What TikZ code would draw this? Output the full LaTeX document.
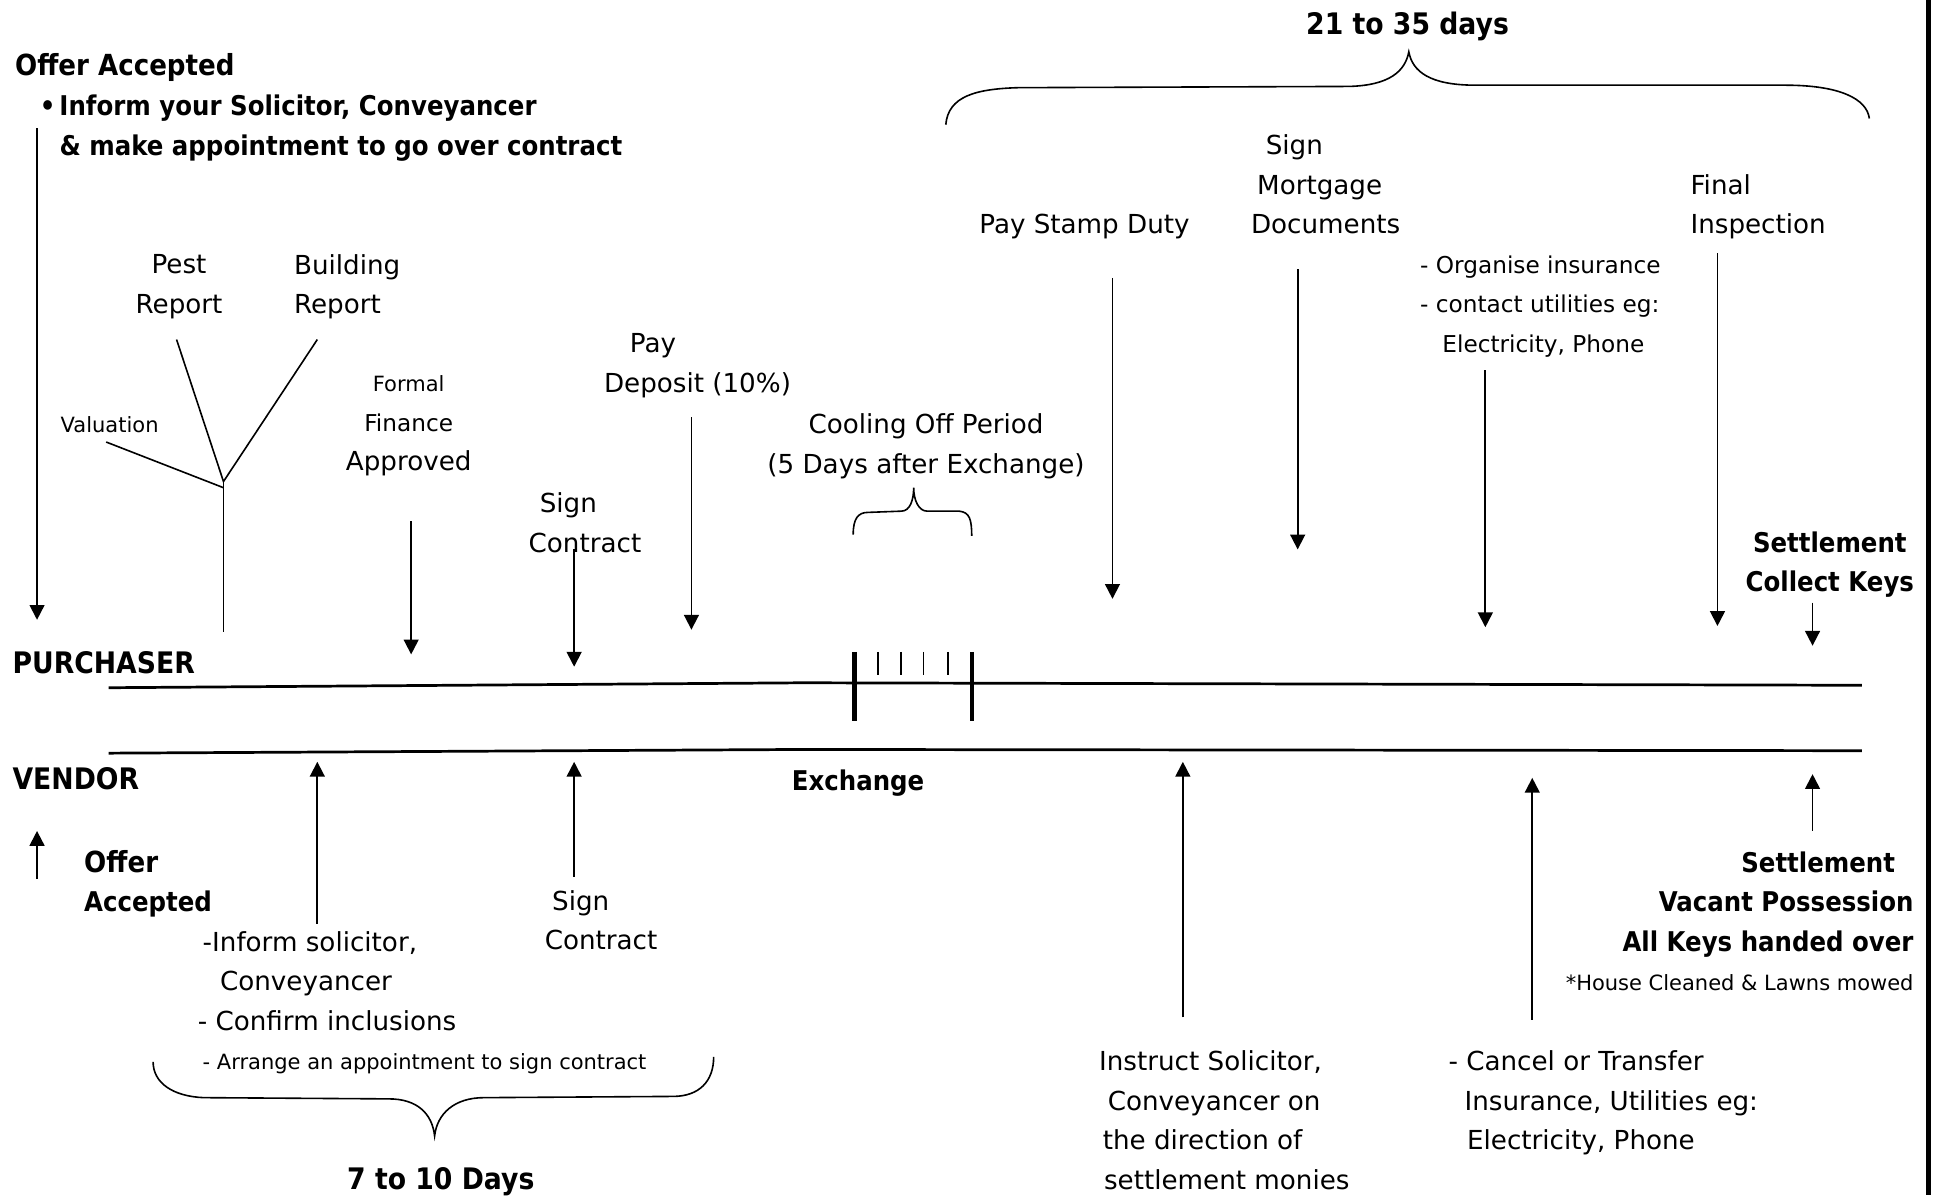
\documentclass[tikz,border=0pt]{standalone}
\usepackage{fontspec}
\setmainfont{DejaVu Sans}[BoldFeatures={FakeStretch=0.9}]
\usetikzlibrary{positioning,arrows.meta}
\tikzset{
  step text/.style={inner sep=0pt, align=left, font=\fontsize{21.2}{32}\selectfont},
  key text/.style={step text, font=\fontsize{22}{32}\selectfont\bfseries},
  big key text/.style={step text, font=\fontsize{24}{32}\selectfont\bfseries},
  note text/.style={step text, font=\fontsize{18.8}{32}\selectfont},
  small text/.style={step text, font=\fontsize{17}{32}\selectfont},
  timeline/.style={line width=2.2pt},
  event arrow/.style={line width=1.5pt, -{Triangle[length=12pt,width=12pt]}},
  tree line/.style={line width=1.3pt},
  period brace/.style={line width=1.3pt},
}

\begin{document}
\begin{tikzpicture}[x=1pt,y=-1pt]
\useasboundingbox (0,0) rectangle (1568,968);
% the nodes (purchaser side)
\node[big key text, anchor=base] (days35) at (1140,28) {21 to 35 days};
\node[key text, anchor=north west] (offerP) at (12,43.5) {{\fontsize{23.5}{32}\selectfont Offer Accepted}\\\hspace*{20pt}\makebox[16pt][l]{•}Inform your Solicitor, Conveyancer\\\hspace*{36pt}\& make appointment to go over contract};
\node[step text, align=center, anchor=north] (pest) at (145,206) {Pest\\Report};
\node[step text, anchor=north west] (building) at (238,206) {Building\\Report};
\node[small text, anchor=west] (valuation) at (49,344) {Valuation};
\node[step text, align=center, anchor=north] (finance) at (331,304) {{\fontsize{17}{32}\selectfont Formal}\\{\fontsize{18.8}{32}\selectfont Finance}\\Approved};
\node[step text, anchor=north west] (signP) at (428,399) {\hspace*{9pt}Sign\\Contract};
\node[step text, anchor=north west] (deposit) at (489,270) {\hspace*{21pt}Pay\\Deposit (10\%)};
\node[step text, align=center, anchor=north] (cooling) at (750,335) {Cooling Off Period\\(5 Days after Exchange)};
\node[step text, anchor=base west] (stamp) at (793,189.5) {Pay Stamp Duty};
\node[step text, anchor=north west] (mortgage) at (1013,109) {\hspace*{12pt}Sign\\\hspace*{5pt}Mortgage\\Documents};
\node[note text, anchor=north west] (insureP) at (1150,207) {- Organise insurance\\- contact utilities eg:\\\hspace*{18pt}Electricity, Phone};
\node[step text, anchor=north west] (final) at (1369,141) {Final\\Inspection};
\node[key text, align=center, anchor=north] (settleP) at (1482,430.5) {Settlement\\Collect Keys};
% the nodes (middle)
\node[big key text, anchor=west] (purchaser) at (10,537) {PURCHASER};
\node[big key text, anchor=west] (vendor) at (10,631) {VENDOR};
\node[key text, anchor=base] (exchange) at (695,640) {Exchange};
% the nodes (vendor side)
\node[key text, anchor=north west] (offerV) at (68,688.5) {\fontsize{23.5}{32}\selectfont Offer\\Accepted};
\node[step text, anchor=north west] (informV) at (160,754) {\hspace*{4pt}-Inform solicitor,\\\hspace*{18pt}Conveyancer\\- Confirm inclusions\\\hspace*{4pt}{\fontsize{17}{32}\selectfont - Arrange an appointment to sign contract}};
\node[step text, anchor=north west] (signV) at (441,721) {\hspace*{6pt}Sign\\Contract};
\node[big key text, anchor=base] (days10) at (357,963) {7 to 10 Days};
\node[step text, anchor=north west] (instruct) at (890,851) {Instruct Solicitor,\\\hspace*{7pt}Conveyancer on\\\hspace*{3pt}the direction of\\\hspace*{4pt}settlement monies};
\node[step text, anchor=north west] (cancel) at (1173,851) {- Cancel or Transfer\\\hspace*{13pt}Insurance, Utilities eg:\\\hspace*{15pt}Electricity, Phone};
\node[key text, align=right, anchor=north east] (settleV) at (1550,689.5) {Settlement\hspace*{15pt}\\Vacant Possession\\All Keys handed over\\{\fontsize{17}{32}\selectfont\mdseries *House Cleaned \& Lawns mowed}};
% arrow ends
\coordinate (offerA) at (30,104);  \coordinate (offerB) at (30,502);
\coordinate (financeA) at (333,422); \coordinate (financeB) at (333,530);
\coordinate (signPA) at (465,445); \coordinate (signPB) at (465,540);
\coordinate (depositA) at (560,338); \coordinate (depositB) at (560,510);
\coordinate (stampA) at (901,225); \coordinate (stampB) at (901,485);
\coordinate (mortgageA) at (1051,218); \coordinate (mortgageB) at (1051,445);
\coordinate (insurePA) at (1203,300); \coordinate (insurePB) at (1203,508);
\coordinate (finalA) at (1391,205); \coordinate (finalB) at (1391,507);
\coordinate (settlePA) at (1468,488); \coordinate (settlePB) at (1468,523);
\coordinate (offerVA) at (30,712); \coordinate (offerVB) at (30,673);
\coordinate (informVA) at (257,748); \coordinate (informVB) at (257,617);
\coordinate (signVA) at (465,710); \coordinate (signVB) at (465,617);
\coordinate (instructA) at (958,824); \coordinate (instructB) at (958,617);
\coordinate (cancelA) at (1241,826); \coordinate (cancelB) at (1241,630);
\coordinate (settleVA) at (1468,673); \coordinate (settleVB) at (1468,627);
% tree of reports
\coordinate (pestEnd) at (143,275);
\coordinate (buildEnd) at (257,275);
\coordinate (valEnd) at (86,358);
\coordinate (fork) at (181,390);
\coordinate (forkFoot) at (181,512);
\draw[tree line] (pestEnd) -- (fork) -- (buildEnd);
\draw[tree line] (valEnd) -- (181,395);
\draw[tree line] (fork) -- (forkFoot);
%drawings of vectors
\foreach \a/\b in {offerA/offerB, financeA/financeB, signPA/signPB, depositA/depositB, stampA/stampB, mortgageA/mortgageB, insurePA/insurePB, finalA/finalB, settlePA/settlePB, offerVA/offerVB, informVA/informVB, signVA/signVB, instructA/instructB, cancelA/cancelB, settleVA/settleVB}
  \draw[event arrow] (\a) -- (\b);
% time lines
\draw[timeline] (88,557) -- (650,553) -- (1508,555);
\draw[timeline] (88,610) -- (650,607) -- (1508,608);
% exchange and cooling off days
\draw[line width=4.5pt] (692,528) -- (692,584);
\foreach \x in {711,730,748,768}
  \draw[line width=1.5pt] (\x,528) -- (\x,547);
\draw[line width=3pt] (787,528) -- (787,584);
% braces
\draw[period brace] (766,101) .. controls (768,78) and (790,72) .. (825,71) -- (1093,70) .. controls (1125,69) and (1138,58) .. (1141,42) .. controls (1144,58) and (1158,69) .. (1195,69) -- (1446,69) .. controls (1490,69) and (1512,80) .. (1514,96);
\draw[period brace] (691,433) .. controls (691,420) and (695,415) .. (703,415) -- (730,414) .. controls (737,414) and (740,405) .. (740,395) .. controls (740,405) and (744,414) .. (751,414) -- (777,414) .. controls (785,415) and (787,420) .. (787,434);
\draw[period brace] (124,860) .. controls (124,877) and (140,888) .. (165,889) -- (315,890) .. controls (338,890) and (350,902) .. (352,920) .. controls (354,902) and (368,889) .. (392,889) -- (545,888) .. controls (566,888) and (578,876) .. (578,856);
% frame edge
\draw[line width=3.5pt] (1562,0) -- (1562,968);
\end{tikzpicture}
\end{document}
